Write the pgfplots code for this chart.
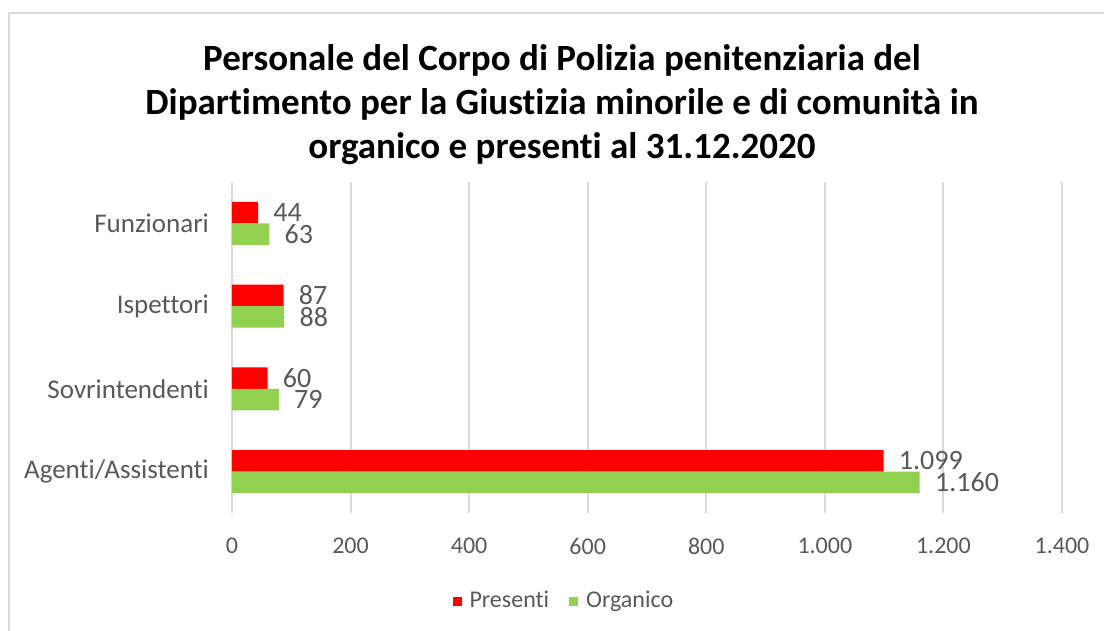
\documentclass[border=0pt]{standalone}
\usepackage{fontspec}
\setmainfont{Carlito}[Ligatures={NoCommon}]
\usepackage{pgfplots}
\pgfplotsset{compat=1.18}
\definecolor{txtgray}{HTML}{595959}
\definecolor{gridgray}{HTML}{D9D9D9}
\definecolor{presred}{HTML}{FF0000}
\definecolor{orggreen}{HTML}{92D050}

\begin{document}
\begin{tikzpicture}
% picture frame: 1 px = 0.5pt
\useasboundingbox (0,0) rectangle (552pt,315.5pt);
\fill[white] (0,0) rectangle (552pt,315.5pt);
\draw[gridgray, line width=1pt] (4.5pt,0) -- (4.5pt,309pt) -- (552pt,309pt);

\node[align=center, font=\fontsize{18.5}{22}\selectfont\bfseries, text=black]
  at (281pt,263pt)
  {Personale del Corpo di Polizia penitenziaria del\\
   Dipartimento per la Giustizia minorile e di comunità in\\
   organico e presenti al 31.12.2020};

\begin{axis}[
    at={(116pt,59pt)}, anchor=south west,
    scale only axis,
    width=415pt, height=165.5pt,
    xbar, bar width=10.75pt,
    xmin=0, xmax=1400,
    ymin=-0.5, ymax=3.5,
    xtick={0,200,...,1400},
    ytick={0,1,2,3},
    yticklabels={Agenti/Assistenti,Sovrintendenti,Ispettori,Funzionari},
    axis line style={draw=none},
    xmajorgrids, grid style={gridgray, line width=1pt},
    major tick length=0pt,
    xticklabel style={yshift=-9pt, font=\fontsize{12}{14}\selectfont},
    yticklabel style={xshift=-8pt, font=\fontsize{13.5}{16}\selectfont},
    tick label style={text=txtgray},
    /pgf/number format/.cd, 1000 sep={.}, assume math mode=true,
    /pgfplots/.cd,
    point meta=x,
    nodes near coords,
    every node near coord/.append style={anchor=west, inner sep=0pt, xshift=7.5pt,
        font=\fontsize{14}{16}\selectfont, text=txtgray},
    legend style={at={(0.401,-0.266)}, anchor=center, draw=none,
        font=\fontsize{12}{14}\selectfont, text=txtgray,
        legend columns=2, /tikz/every even column/.append style={column sep=8pt}},
    legend image code/.code={\fill[#1] (0pt,-2.25pt) rectangle (4.5pt,2.25pt);
        \path (0pt,0pt) -- (6.5pt,0pt);},
]
\addplot[draw=none, fill=presred, bar shift=5.375pt] coordinates {
 (1099,0) (60,1) (87,2) (44,3)
};
\addlegendentry{Presenti}
\addplot[draw=none, fill=orggreen, bar shift=-5.375pt] coordinates {
 (1160,0) (79,1) (88,2) (63,3)
};
\addlegendentry{Organico}
\end{axis}
\end{tikzpicture}
\end{document}
